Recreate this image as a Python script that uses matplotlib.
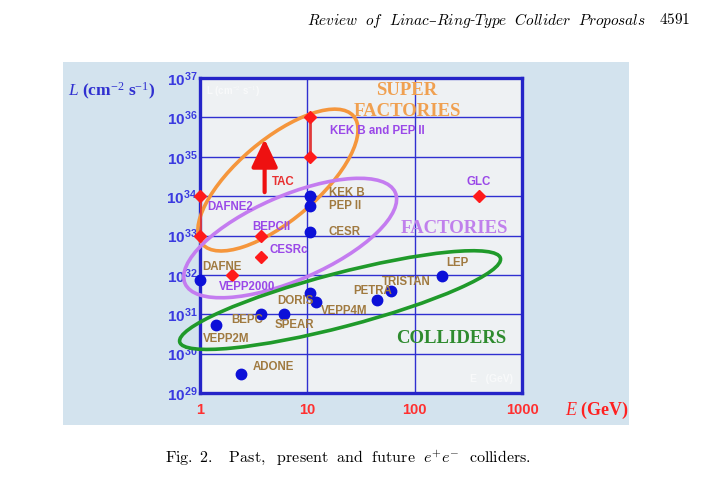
import numpy as np
import matplotlib
matplotlib.use("Agg")
import matplotlib.pyplot as plt
from matplotlib.patches import Ellipse

plt.rcParams["mathtext.fontset"] = "custom"
plt.rcParams["mathtext.rm"] = "Liberation Serif"
plt.rcParams["mathtext.it"] = "Liberation Serif:italic"
plt.rcParams["mathtext.bf"] = "Liberation Sans:bold"

# --- data: beam energy (GeV) and luminosity (cm^-2 s^-1) ---
# existing / past colliders (blue circles)
past_names = ["DAFNE", "VEPP2M", "ADONE", "BEPC", "SPEAR", "DORIS", "VEPP4M",
              "PETRA", "TRISTAN", "LEP", "KEK B", "PEP II", "CESR"]
past_E = [1.0, 1.4, 2.4, 3.7, 6.0, 10.5, 12.0, 45, 60, 178, 10.5, 10.5, 10.5]
past_L = [7.5e31, 5.2e30, 3.0e29, 1.0e31, 1.0e31, 3.5e31, 2.0e31,
          2.3e31, 4.0e31, 9.3e31, 1.0e34, 5.6e33, 1.25e33]

# planned / proposed (red diamonds)
new_names = ["DAFNE2 lo", "DAFNE2 hi", "BEPCII", "CESRc", "VEPP2000",
             "KEKB/PEPII lo", "KEKB/PEPII hi", "GLC"]
new_E = [1.0, 1.0, 3.7, 3.7, 2.0, 10.5, 10.5, 400]
new_L = [1e33, 1e34, 9.5e32, 2.9e32, 1.0e32, 1e35, 1e36, 1e34]

# upgrade paths (vertical red segments)
seg_E = [1.0, 10.5]
seg_lo = [1e33, 1e35]
seg_hi = [1e34, 1e36]

# TAC arrow
tac_E = 4.0
tac_from = 1.26e34
tac_to = 2.8e35

brown = "#a07a40"
purple = "#9a48e8"
labels = [
    ("KEK B and PEP II", 16.2, 4.5e35, purple),
    ("TAC", 4.7, 2.3e34, "#e83030"),
    ("KEK B", 15.9, 1.2e34, brown),
    ("PEP II", 15.9, 5.6e33, brown),
    ("GLC", 307, 2.3e34, purple),
    ("DAFNE2", 1.16, 5.4e33, purple),
    ("BEPCII", 3.1, 1.66e33, purple),
    ("CESR", 15.9, 1.23e33, brown),
    ("CESRc", 4.4, 4.3e32, purple),
    ("DAFNE", 1.05, 1.6e32, brown),
    ("VEPP2000", 1.5, 5.0e31, purple),
    ("LEP", 195, 2.0e32, brown),
    ("TRISTAN", 49.5, 6.6e31, brown),
    ("PETRA", 26.5, 3.9e31, brown),
    ("DORIS", 5.2, 2.2e31, brown),
    ("VEPP4M", 13.4, 1.23e31, brown),
    ("BEPC", 1.94, 7.2e30, brown),
    ("SPEAR", 5.0, 5.4e30, brown),
    ("VEPP2M", 1.07, 2.4e30, brown),
    ("ADONE", 3.1, 4.6e29, brown),
]

groups = [
    ("SUPER", 85, 4.7e36, "#f0a050"),
    ("FACTORIES", 86, 1.4e36, "#f0a050"),
    ("FACTORIES", 235, 1.55e33, "#c080ec"),
    ("COLLIDERS", 218, 2.4e30, "#2e8b2e"),
]

xticks = [1, 10, 100, 1000]
yticks = [1e29, 1e30, 1e31, 1e32, 1e33, 1e34, 1e35, 1e36, 1e37]
ytick_labels = [r"$\mathbf{10^{%d}}$" % p for p in range(29, 38)]

# --------------------------------------------------
W, H = 723, 480
fig = plt.figure(figsize=(W / 100, H / 100), dpi=100)
fig.patch.set_facecolor("white")

# light blue slide panel
bg = fig.add_axes([63 / W, 1 - 425 / H, 566 / W, 363 / H], zorder=0)
bg.set_facecolor("#d3e3ee")
bg.set_xticks([])
bg.set_yticks([])
for s in bg.spines.values():
    s.set_visible(False)

ax = fig.add_axes([200 / W, 1 - 393 / H, 322 / W, 315 / H], zorder=1)
ax.set_facecolor("#eef1f3")
ax.set_xscale("log")
ax.set_yscale("log")
ax.set_xlim(1, 1000)
ax.set_ylim(1e29, 1e37)

blue = "#2424c8"
for s in ax.spines.values():
    s.set_color(blue)
    s.set_linewidth(2.4)
ax.set_xticks(xticks)
ax.set_xticklabels([str(t) for t in xticks])
ax.set_yticks(yticks)
ax.set_yticklabels(ytick_labels)
ax.minorticks_off()
ax.tick_params(axis="both", length=0)
ax.tick_params(axis="x", pad=7, labelsize=10.5, labelcolor="#ff3030")
ax.tick_params(axis="y", pad=2, labelsize=11, labelcolor="#3a3ae0")
for t in ax.get_xticklabels():
    t.set_fontfamily("Liberation Sans")
    t.set_fontweight("bold")
ax.grid(True, color="#3030d0", linewidth=1.0)
ax.set_axisbelow(True)

# ellipses (in axes fraction)
ell = [
    (0.242, 0.676, 0.621, 0.254, 41, "#f5963c"),
    (0.280, 0.492, 0.714, 0.267, 24, "#c47cf0"),
    (0.435, 0.295, 1.031, 0.170, 15, "#1f9a2a"),
]
for cx, cy, w, h, ang, c in ell:
    ax.add_patch(Ellipse((cx, cy), w, h, angle=ang, transform=ax.transAxes,
                         fill=False, edgecolor=c, linewidth=2.6,
                         clip_on=False, zorder=3))

ax.vlines(seg_E, seg_lo, seg_hi, color="#e03a3a", linewidth=2, zorder=4)
ax.plot(past_E, past_L, "o", color="#0c10d8", markersize=7.5, zorder=5,
        clip_on=False)
ax.plot(new_E, new_L, "D", color="#ff1a1a", markersize=6, zorder=5,
        clip_on=False)
ax.annotate("", xy=(tac_E, tac_to), xytext=(tac_E, tac_from),
            arrowprops=dict(arrowstyle="-|>,head_length=0.85,head_width=0.4",
                            color="#ee1111", linewidth=3, mutation_scale=20,
                            shrinkA=0, shrinkB=0), zorder=5)

for txt, x, y, c in labels:
    ax.text(x, y, txt, color=c, fontsize=8.3, fontweight="bold",
            fontfamily="Liberation Sans", ha="left", va="center", zorder=6)

for txt, x, y, c in groups:
    ax.text(x, y, txt, color=c, fontsize=13.5, fontweight="bold",
            fontfamily="Liberation Serif", ha="center", va="center", zorder=6)

# faint in-plot labels from the original slide
ax.text(0.02, 0.955, r"L (cm$^{-2}$ s$^{-1}$)", transform=ax.transAxes,
        color="white", fontsize=7, alpha=0.6, fontfamily="Liberation Sans",
        fontweight="bold", va="center")
ax.text(0.84, 0.045, "E   (GeV)", transform=ax.transAxes,
        color="white", fontsize=7.5, alpha=0.6, fontfamily="Liberation Sans",
        fontweight="bold", va="center")

# axis titles outside the frame
fig.text(68 / W, 1 - 91 / H, r"$\mathit{L}$ (cm$^{\mathrm{-2}}$ s$^{\mathrm{-1}}$)",
         color="#3030d0", fontsize=12.5, fontweight="bold",
         fontfamily="Liberation Serif", va="center", zorder=2)
fig.text(565 / W, 1 - 410 / H, r"$\mathit{E}$ (GeV)", color="#ff2020",
         fontsize=13, fontweight="bold", fontfamily="Liberation Serif",
         va="center", zorder=2)

# page header and caption (LaTeX look)
fig.text(307 / W, 1 - 20 / H,
         r"$\mathit{Review\ \ of\ \ Linac}$" + "\u2013"
         + r"$\mathit{Ring}$-$\mathit{Type\ \ Collider\ \ Proposals}$",
         fontsize=11, math_fontfamily="cm", fontfamily="DejaVu Serif",
         va="center")
fig.text(690 / W, 1 - 20 / H, r"$\mathrm{4591}$", fontsize=11,
         math_fontfamily="cm", va="center", ha="right")
fig.text(165 / W, 1 - 458 / H,
         r"$\mathrm{Fig.\ 2.\quad Past,\ \ present\ \ and\ \ future\ \ }e^{+}e^{-}\mathrm{\ \ colliders.}$",
         fontsize=11.5, math_fontfamily="cm", va="center")

fig.savefig("out.png", dpi=100)
